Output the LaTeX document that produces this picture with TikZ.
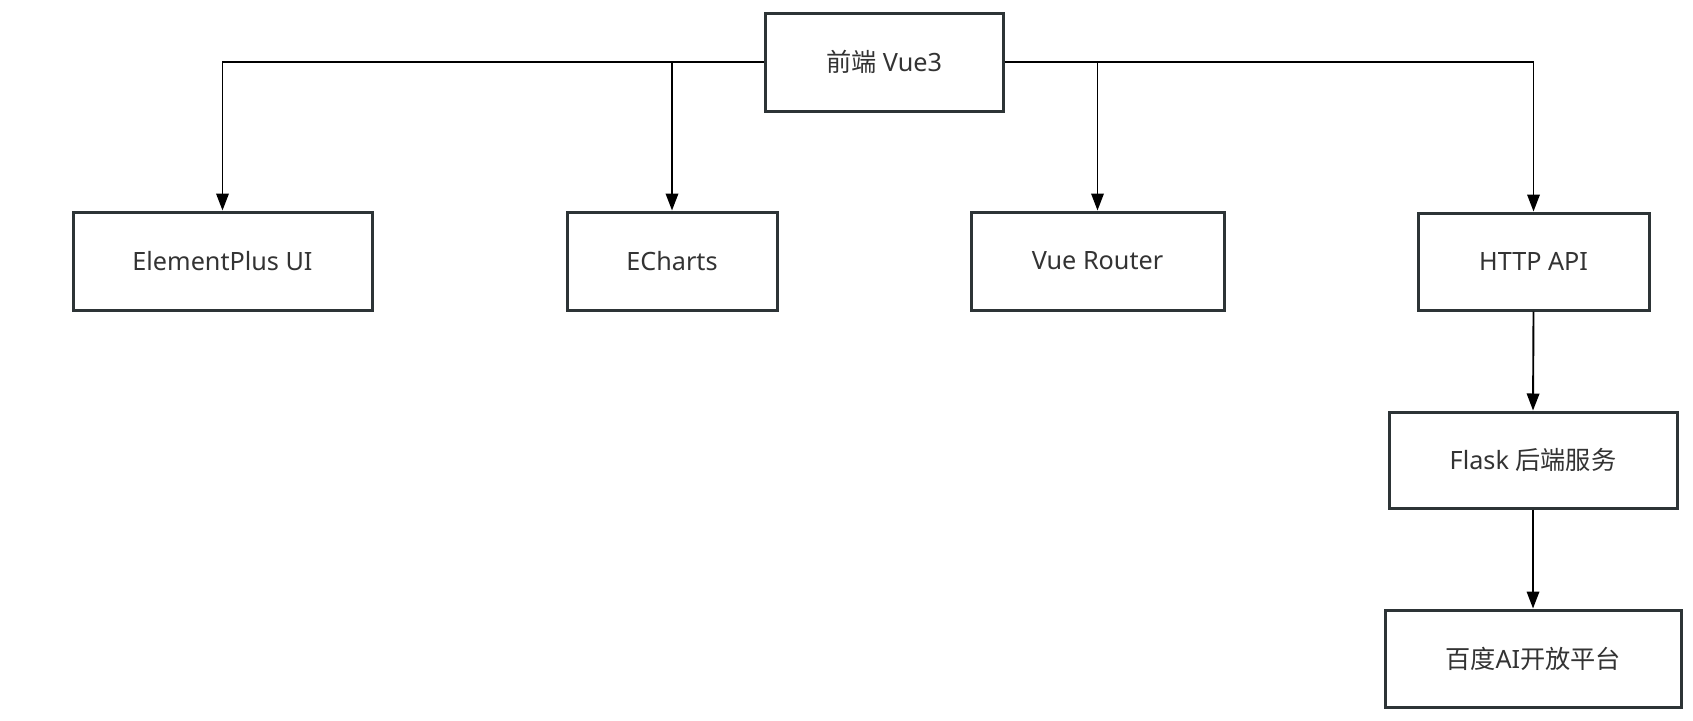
\documentclass[tikz,border=0pt]{standalone}
\usepackage{fontspec}
\setmainfont{Noto Sans}
\newfontfamily\cjk{Noto Sans CJK SC}
\usetikzlibrary{arrows.meta}
\definecolor{boxline}{RGB}{45,52,54}
\definecolor{txt}{RGB}{51,51,51}
\tikzset{
  box/.style={draw=boxline, line width=3pt, fill=white, rectangle, inner sep=0pt,
    font=\fontsize{25.2}{28}\selectfont, text=txt},
  conn/.style={draw=black, line width=1.9pt, -{Triangle[length=17pt,width=12.5pt]}}
}
\begin{document}
\begin{tikzpicture}[x=1pt,y=-1pt]
\useasboundingbox (0,0) rectangle (1693,720);
\node[box, minimum width=238pt, minimum height=98pt] (vue) at (884,62) {{\cjk 前端} Vue3};
\node[box, minimum width=299pt, minimum height=98pt] (ep) at (222.5,261) {ElementPlus UI};
\node[box, minimum width=210pt, minimum height=98pt] (ec) at (672,261) {ECharts};
\node[box, minimum width=253pt, minimum height=98pt] (vr) at (1097.5,261) {Vue Router};
\node[box, minimum width=231pt, minimum height=97pt] (http) at (1533.5,261.5) {HTTP API};
\node[box, minimum width=288pt, minimum height=96pt] (flask) at (1533,460) {Flask {\cjk 后端服务}};
\node[box, minimum width=296pt, minimum height=97pt] (baidu) at (1533,658.5) {{\cjk 百度}AI{\cjk 开放平台}};
\draw[conn] (vue.west) -| (ep.north);
\draw[conn] (vue.west) -| (ec.north);
\draw[conn] (vue.east) -| (vr.north);
\draw[conn] (vue.east) -| (http.north);
\draw[conn] (http.south) -- (flask.north);
\draw[conn] (flask.south) -- (baidu.north);
\end{tikzpicture}
\end{document}
